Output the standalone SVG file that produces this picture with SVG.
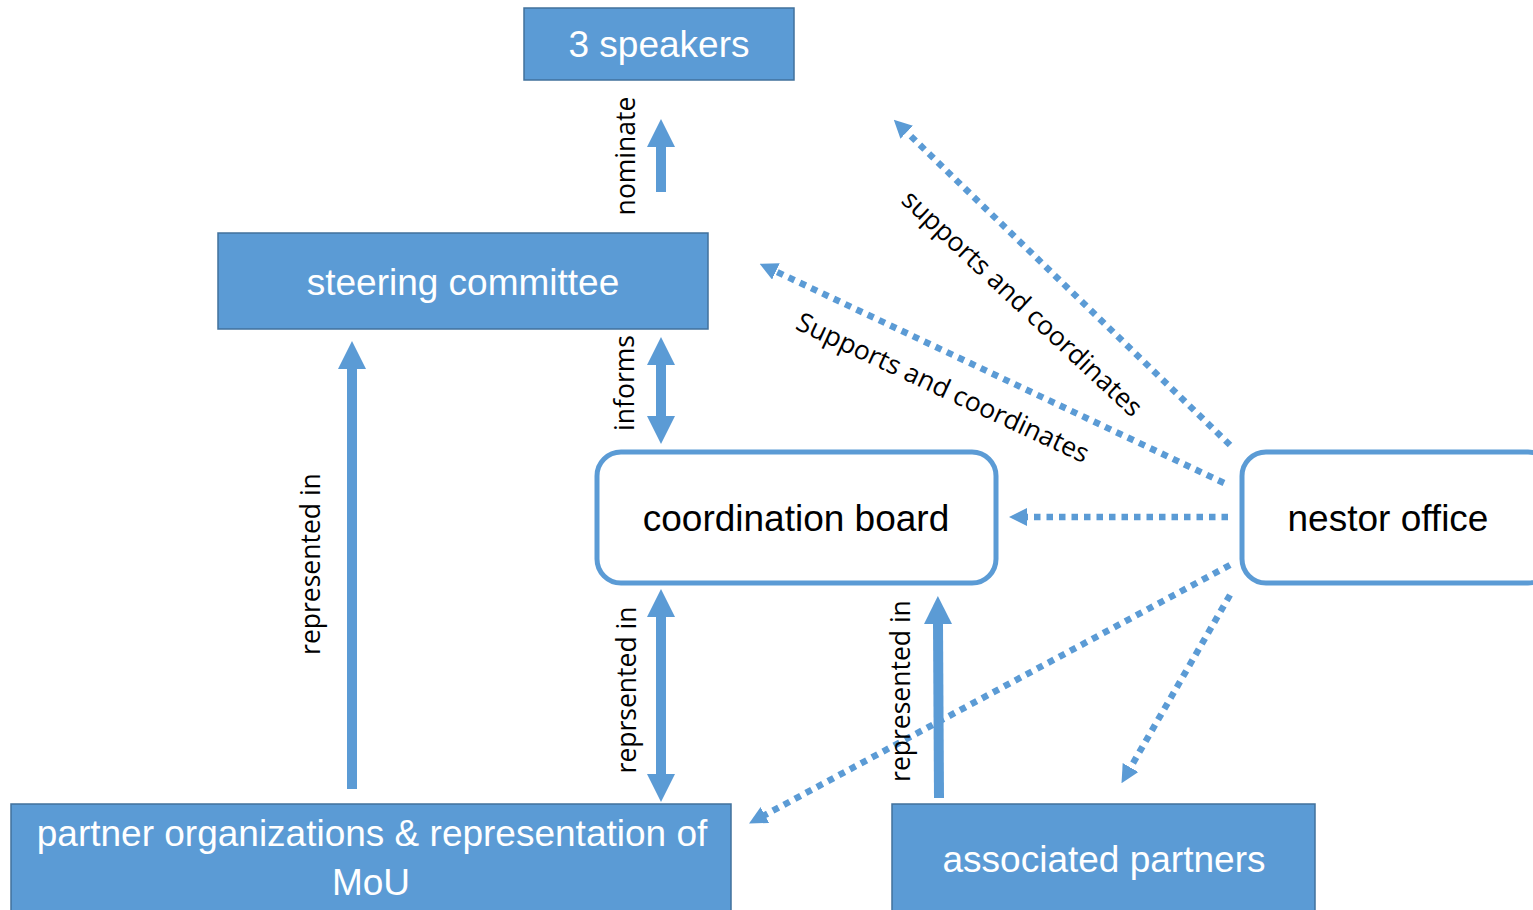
<svg xmlns="http://www.w3.org/2000/svg" width="1533" height="910" viewBox="0 0 1533 910">
<style>
.box{fill:#5B9BD5;stroke:#41719C;stroke-width:1.5}
.rbox{fill:#FFFFFF;stroke:#5B9BD5;stroke-width:5}
.bt{font-family:"Liberation Sans",Arial,sans-serif;font-size:37px;fill:#FFFFFF;text-anchor:middle}
.kt{font-family:"Liberation Sans",Arial,sans-serif;font-size:37px;fill:#000000;text-anchor:middle}
.lbl{font-family:"Open Sans","DejaVu Sans",sans-serif;font-size:26.5px;fill:#000000;text-anchor:middle}
.solid{stroke:#5B9BD5;stroke-width:10;fill:none}
.dot{stroke:#5B9BD5;stroke-width:6.5;stroke-dasharray:6.5 6;fill:none}
</style>
<defs>
<marker id="head" markerUnits="userSpaceOnUse" markerWidth="28" markerHeight="28" viewBox="0 0 28 28" refX="1" refY="14" orient="auto-start-reverse">
<path d="M0,0 L28,14 L0,28 z" fill="#5B9BD5"/>
</marker>
<marker id="dhead" markerUnits="userSpaceOnUse" markerWidth="18" markerHeight="18" viewBox="0 0 18 18" refX="1" refY="9" orient="auto">
<path d="M0,0 L18,9 L0,18 z" fill="#5B9BD5"/>
</marker>
</defs>

<g id="connectors">
<line class="solid" x1="661" y1="192" x2="661" y2="146" marker-end="url(#head)"/>
<line class="solid" x1="661" y1="364" x2="661" y2="417" marker-start="url(#head)" marker-end="url(#head)"/>
<line class="solid" x1="352" y1="789" x2="352" y2="368" marker-end="url(#head)"/>
<line class="solid" x1="661" y1="616" x2="661" y2="775" marker-start="url(#head)" marker-end="url(#head)"/>
<line class="solid" x1="939" y1="798" x2="938" y2="623" marker-end="url(#head)"/>
<line class="dot" x1="1230" y1="445" x2="906" y2="131.5" marker-end="url(#dhead)"/>
<line class="dot" x1="1224" y1="483" x2="775" y2="271" marker-end="url(#dhead)"/>
<line class="dot" x1="1228" y1="517" x2="1026" y2="517" marker-end="url(#dhead)"/>
<line class="dot" x1="1230" y1="565" x2="764" y2="815.5" marker-end="url(#dhead)"/>
<line class="dot" x1="1230" y1="595" x2="1130" y2="768.4" marker-end="url(#dhead)"/>
<text class="lbl" x="635" y="156" transform="rotate(-90 635 156)">nominate</text>
<text class="lbl" x="634" y="383" transform="rotate(-90 634 383)">informs</text>
<text class="lbl" x="320" y="564" transform="rotate(-90 320 564)">represented in</text>
<text class="lbl" x="636" y="690" transform="rotate(-90 636 690)">reprsented in</text>
<text class="lbl" x="910" y="691" transform="rotate(-90 910 691)">represented in</text>
<text class="lbl" x="1016" y="310" transform="rotate(43 1016 310)">supports and coordinates</text>
<text class="lbl" x="939" y="396" transform="rotate(25 939 396)">Supports and coordinates</text>
</g>

<g id="speakers">
<rect class="box" x="524" y="8" width="270" height="72"/>
<text class="bt" x="659" y="57">3 speakers</text>
</g>
<g id="steering">
<rect class="box" x="218" y="233" width="490" height="96"/>
<text class="bt" x="463" y="295">steering committee</text>
</g>
<g id="coordination">
<rect class="rbox" x="597" y="452" width="399" height="131" rx="24"/>
<text class="kt" x="796" y="531">coordination board</text>
</g>
<g id="nestor">
<rect class="rbox" x="1242" y="452" width="310" height="131" rx="24"/>
<text class="kt" x="1388" y="531">nestor office</text>
</g>
<g id="partners">
<rect class="box" x="11" y="804" width="720" height="120"/>
<text class="bt" x="372" y="846">partner organizations &amp; representation of</text>
<text class="bt" x="371" y="895">MoU</text>
</g>
<g id="associated">
<rect class="box" x="892" y="804" width="423" height="120"/>
<text class="bt" x="1104" y="872">associated partners</text>
</g>
</svg>
